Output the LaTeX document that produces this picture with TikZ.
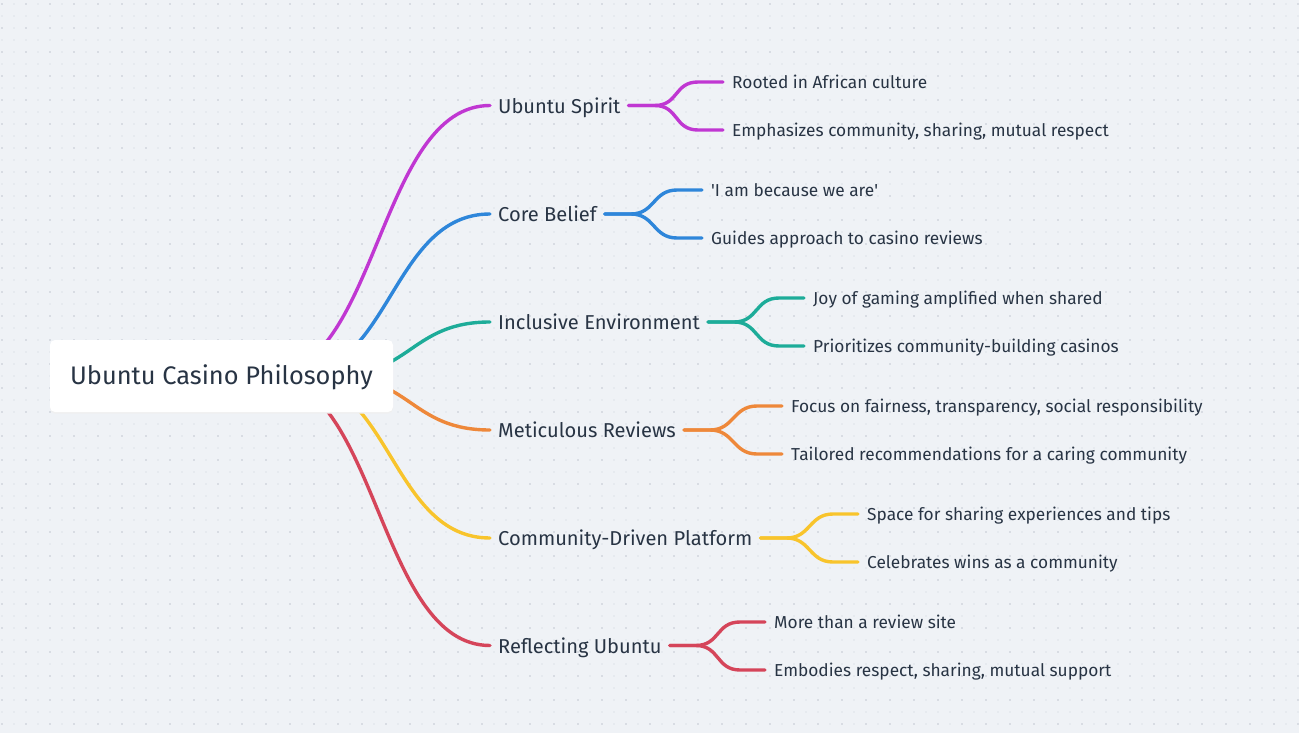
\documentclass[tikz,border=0pt]{standalone}
\usepackage{fontspec}
\setmainfont{Fira Sans}
\usetikzlibrary{calc}
\definecolor{bg}{HTML}{EFF2F6}
\definecolor{dotlight}{HTML}{DCE0E7}
\definecolor{dotdark}{HTML}{C5CAD3}
\definecolor{ink}{HTML}{283444}
\definecolor{cMag}{HTML}{C037D2}
\definecolor{cBlue}{HTML}{2E86DA}
\definecolor{cTeal}{HTML}{1DAC99}
\definecolor{cOrange}{HTML}{EE883A}
\definecolor{cYellow}{HTML}{F8C42C}
\definecolor{cRed}{HTML}{D5455A}
\tikzset{
  link/.style={line width=3.4pt, line cap=round},
  rootbox/.style={fill=white, rounded corners=5pt, minimum width=343pt, minimum height=72pt,
     inner sep=0pt, text=ink, font=\fontsize{25.4}{30}\selectfont, text height=17.5pt, text depth=0pt},
  lvlone/.style={anchor=west, inner sep=0pt, text=ink, font=\fontsize{20.1}{24}\selectfont,
     text height=15.6pt, text depth=0pt},
  lvltwo/.style={anchor=west, inner sep=0pt, text=ink, font=\fontsize{17.3}{20}\selectfont,
     text height=13.2pt, text depth=0pt},
}
\newcommand{\mainlink}[3]{%
  \draw[link,#3] ($(root.center)+(#2,0)$) coordinate (s)
    let \p1=(s), \p2=($(#1.west)+(-8,0)$), \n1={(\x2-\x1)/2} in
    .. controls +(\n1,0) and +(-\n1,0) .. (\p2);}
\newcommand{\childlink}[3]{%
  \draw[link,#3] ($(#1.east)+(8,0)$) -- ++(26,0) coordinate (m)
    let \p1=(m), \p2=($(#2.west)+(-34,0)$) in
    .. controls (\x1+24,\y1) and (\x2-24,\y2) .. (\p2) -- ($(#2.west)+(-9,0)$);}
\begin{document}
\begin{tikzpicture}[x=1pt,y=-1pt]
\useasboundingbox (0,0) rectangle (1299,733);
\fill[bg] (0,0) rectangle (1299,733);
\fill[dotlight] foreach \i in {0,...,108} {foreach \j in {0,...,61} {(1.3+12*\i,3.3+12*\j) rectangle ++(1.4,1.4)}};
\fill[dotdark] foreach \i in {0,...,54} {foreach \j in {0,...,30} {(1.3+24*\i,3.3+24*\j) rectangle ++(1.4,1.4)}};
% level one nodes
\node[lvlone] (a) at (498,105.5) {Ubuntu Spirit};
\node[lvlone] (b) at (498,214) {Core Belief};
\node[lvlone] (c) at (498,322) {Inclusive Environment};
\node[lvlone] (d) at (498,430) {Meticulous Reviews};
\node[lvlone] (e) at (498,538) {Community-Driven Platform};
\node[lvlone] (f) at (498,645.5) {Reflecting Ubuntu};
% level two nodes
\node[lvltwo] (a1) at (732,82) {Rooted in African culture};
\node[lvltwo] (a2) at (732,130) {Emphasizes community, sharing, mutual respect};
\node[lvltwo] (b1) at (711,190) {\textquotesingle I am because we are\textquotesingle};
\node[lvltwo] (b2) at (711,238) {Guides approach to casino reviews};
\node[lvltwo] (c1) at (813,298) {Joy of gaming amplified when shared};
\node[lvltwo] (c2) at (813,346) {Prioritizes community-building casinos};
\node[lvltwo] (d1) at (791,406) {Focus on fairness, transparency, social responsibility};
\node[lvltwo] (d2) at (791,454) {Tailored recommendations for a caring community};
\node[lvltwo] (e1) at (867,514) {Space for sharing experiences and tips};
\node[lvltwo] (e2) at (867,562) {Celebrates wins as a community};
\node[lvltwo] (f1) at (774,622) {More than a review site};
\node[lvltwo] (f2) at (774,670) {Embodies respect, sharing, mutual support};
% root position
\coordinate (root) at (221.5,376);
\mainlink{a}{44.5}{cMag}
\mainlink{b}{70.5}{cBlue}
\mainlink{c}{110.5}{cTeal}
\mainlink{d}{110.5}{cOrange}
\mainlink{e}{70.5}{cYellow}
\mainlink{f}{44.5}{cRed}
\childlink{a}{a1}{cMag}\childlink{a}{a2}{cMag}
\childlink{b}{b1}{cBlue}\childlink{b}{b2}{cBlue}
\childlink{c}{c1}{cTeal}\childlink{c}{c2}{cTeal}
\childlink{d}{d1}{cOrange}\childlink{d}{d2}{cOrange}
\childlink{e}{e1}{cYellow}\childlink{e}{e2}{cYellow}
\childlink{f}{f1}{cRed}\childlink{f}{f2}{cRed}
\fill[black!6, rounded corners=5pt] (50,341.5) rectangle (393,413.5);
\node[rootbox] (rootnode) at (root) {Ubuntu Casino Philosophy};
\end{tikzpicture}
\end{document}
